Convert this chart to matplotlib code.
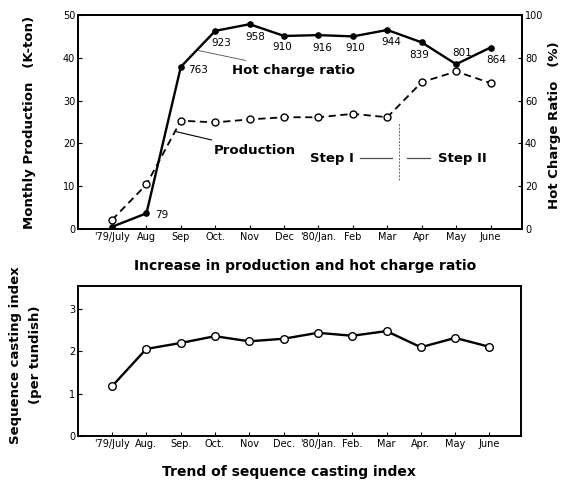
import matplotlib
matplotlib.use("Agg")
import matplotlib.pyplot as plt
import numpy as np

# months (top / bottom panel tick labels)
months_top = ["'79/July", "Aug", "Sep", "Oct.", "Nov", "Dec", "'80/Jan.",
              "Feb", "Mar", "Apr", "May", "June"]
months_bot = ["'79/July", "Aug.", "Sep.", "Oct.", "Nov", "Dec.", "'80/Jan.",
              "Feb.", "Mar", "Apr.", "May", "June"]

# monthly production, K-ton (left axis)
production = [2.1, 10.4, 25.3, 24.9, 25.6, 26.1, 26.1, 26.9, 26.1, 34.3, 36.8, 34.1]
# hot charge ratio, % (right axis)
hot_charge = [1.0, 7.3, 75.8, 92.6, 95.7, 90.2, 90.6, 90.0, 93.0, 87.2, 77.0, 84.8]
hc_labels = ["", "79", "763", "923", "958", "910", "916", "910", "944", "839", "801", "864"]
# label offsets (points)
hc_offsets = [(0, 0), (6, -1), (5.5, -2), (4, -9), (4, -9), (-1, -8), (3, -9),
              (2, -8), (3, -9), (-2, -9), (4, 8), (4, -9)]

# sequence casting index (per tundish)
seq_index = [1.17, 2.05, 2.19, 2.35, 2.23, 2.29, 2.43, 2.36, 2.47, 2.09, 2.31, 2.10]

x = np.arange(len(months_top))

fig = plt.figure(figsize=(5.63, 4.84), dpi=100)

# ---- top panel
ax1 = fig.add_axes([0.1385, 0.527, 0.789, 0.442])
ax2 = ax1.twinx()

ax1.plot(x, production, color="black", lw=1.3, ls=(0, (4, 2.5)),
         marker="o", ms=5, mfc="white", mec="black", mew=1.0, zorder=3)
ax2.plot(x, hot_charge, color="black", lw=1.7, marker="o", ms=3.8,
         mfc="black", mec="black", zorder=3)

for xi, yi, lab, off in zip(x, hot_charge, hc_labels, hc_offsets):
    if lab:
        ax2.annotate(lab, (xi, yi), xytext=off, textcoords="offset points",
                     ha="left" if off[0] > 5 else "center", va="center",
                     fontsize=7.5)

ax1.set_xlim(-0.99, 11.92)
ax1.set_ylim(0, 50)
ax2.set_ylim(0, 100)
ax1.set_yticks([0, 10, 20, 30, 40, 50])
ax2.set_yticks([0, 20, 40, 60, 80, 100])
ax1.set_xticks(x)
ax1.set_xticklabels(months_top)

# leader-line annotations
ax1.annotate("Hot charge ratio", xy=(2.45, 41.8), xytext=(3.5, 37.0),
             fontsize=9.5, fontweight="bold", va="center", ha="left",
             arrowprops=dict(arrowstyle="-", lw=0.6, color="0.3",
                             shrinkA=3, shrinkB=0))
ax1.annotate("Production", xy=(1.83, 22.8), xytext=(2.97, 18.4),
             fontsize=9.5, fontweight="bold", va="center", ha="left",
             arrowprops=dict(arrowstyle="-", lw=0.8, color="black",
                             shrinkA=3, shrinkB=0))

# Step I / Step II marker
ax1.text(5.76, 16.5, "Step I", fontsize=9.5, fontweight="bold", va="center", ha="left")
ax1.plot([7.21, 8.14], [16.5, 16.5], color="0.3", lw=0.9)
ax1.plot([8.34, 8.34], [11.4, 24.7], color="0.4", lw=0.7, ls=(0, (2, 1.5)))
ax1.plot([8.58, 9.24], [16.5, 16.5], color="0.3", lw=0.9)
ax1.text(9.48, 16.5, "Step II", fontsize=9.5, fontweight="bold", va="center", ha="left")

for ax in (ax1, ax2):
    ax.tick_params(direction="in", length=3, width=0.8, labelsize=7, pad=2)
    for s in ax.spines.values():
        s.set_linewidth(1.4)

# ---- bottom panel
ax3 = fig.add_axes([0.1385, 0.099, 0.787, 0.31])
ax3.plot(x, seq_index, color="black", lw=1.7, marker="o", ms=5.5,
         mfc="white", mec="black", mew=1.0, zorder=3)
ax3.set_xlim(-0.99, 11.92)
ax3.set_ylim(0, 3.53)
ax3.set_yticks([0, 1, 2, 3])
ax3.set_xticks(x)
ax3.set_xticklabels(months_bot)
ax3.tick_params(direction="in", length=3, width=0.8, labelsize=7, pad=2)
for s in ax3.spines.values():
    s.set_linewidth(1.4)

# ---- figure texts
fig.text(0.052, 0.748, "Monthly Production   (K-ton)", rotation=90,
         ha="center", va="center", fontsize=9.5, fontweight="bold")
fig.text(0.985, 0.742, "Hot Charge Ratio   (%)", rotation=90,
         ha="center", va="center", fontsize=9.5, fontweight="bold")
fig.text(0.542, 0.450, "Increase in production and hot charge ratio",
         ha="center", va="center", fontsize=10, fontweight="bold")
fig.text(0.027, 0.267, "Sequence casting index", rotation=90,
         ha="center", va="center", fontsize=9.5, fontweight="bold")
fig.text(0.063, 0.267, "(per tundish)", rotation=90,
         ha="center", va="center", fontsize=9.5, fontweight="bold")
fig.text(0.514, 0.025, "Trend of sequence casting index",
         ha="center", va="center", fontsize=10, fontweight="bold")

fig.savefig("out.png", dpi=100)
